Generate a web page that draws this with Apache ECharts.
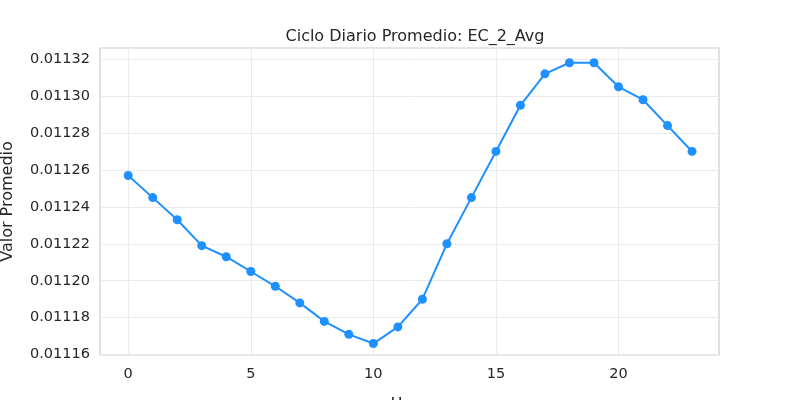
<!DOCTYPE html>
<html><head><meta charset="utf-8">
<script src="https://cdn.jsdelivr.net/npm/echarts@6/dist/echarts.min.js"></script>
<style>html,body{margin:0;padding:0;background:#fff}#c{width:800px;height:400px}</style>
</head><body><div id="c"></div>
<script>
const hours = [0,1,2,3,4,5,6,7,8,9,10,11,12,13,14,15,16,17,18,19,20,21,22,23];
const values = [0.011257,0.011245,0.011233,0.011219,0.011213,0.011205,0.011197,0.011188,0.011178,0.011171,0.011166,0.011175,0.011190,0.011220,0.011245,0.011270,0.011295,0.011312,0.011318,0.011318,0.011305,0.011298,0.011284,0.011270];
const xTicks = [0,5,10,15,20];
const yTicks = [0.01116,0.01118,0.0112,0.01122,0.01124,0.01126,0.01128,0.0113,0.01132];
const chart = echarts.init(document.getElementById('c'));
const font = 'DejaVu Sans';
chart.setOption({
  animation:false,
  title:{text:'Ciclo Diario Promedio: EC_2_Avg',left:410,top:24,textAlign:'center',textStyle:{fontFamily:font,fontSize:16,fontWeight:'normal',color:'#262626'}},
  grid:{left:100,right:81,top:48,bottom:45,containLabel:false,outerBoundsMode:'none',show:true,borderColor:'#cccccc',borderWidth:1.2},
  xAxis:{type:'value',min:-1.15,max:24.1,name:'Hora',nameLocation:'middle',nameGap:42,
    nameTextStyle:{fontFamily:font,fontSize:16,color:'#262626'},
    axisLine:{show:false},axisTick:{show:false,customValues:xTicks},
    axisLabel:{customValues:xTicks,fontFamily:font,fontSize:14.5,color:'#262626',margin:12},
    splitLine:{show:true,lineStyle:{color:'#ebebeb'}}},
  yAxis:{type:'value',min:0.0111598,max:0.011326,name:'Valor Promedio',nameLocation:'middle',nameGap:84,
    nameTextStyle:{fontFamily:font,fontSize:16,color:'#262626'},
    axisLine:{show:false},axisTick:{show:false,customValues:yTicks},
    axisLabel:{customValues:yTicks,fontFamily:font,fontSize:14.5,color:'#262626',margin:10,formatter:v=>v.toFixed(5)},
    splitLine:{show:true,lineStyle:{color:'#ebebeb'}}},
  series:[{type:'line',data:hours.map((h,i)=>[h,values[i]]),symbol:'circle',symbolSize:9,
    itemStyle:{color:'#1e90ff'},lineStyle:{color:'#1e90ff',width:2}}]
});
</script></body></html>
